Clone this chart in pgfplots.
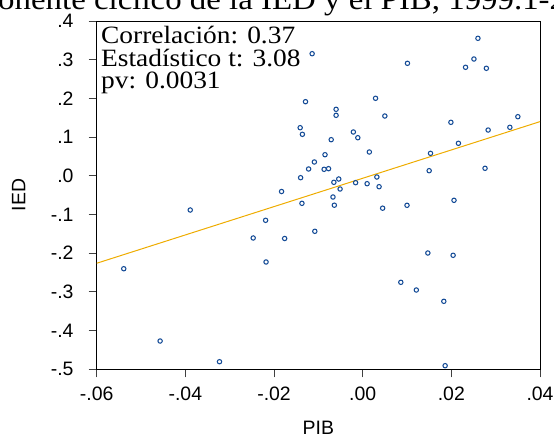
\documentclass[border=0pt]{standalone}
\usepackage{pgfplots}
\pgfplotsset{compat=1.18}
\usepackage{fontspec}
\setmainfont{Liberation Serif}
\newfontfamily\annfont{Liberation Serif}[FakeStretch=1.1]
\newfontfamily\arial{Liberation Sans}
\definecolor{ptblue}{RGB}{20,75,150}
\definecolor{fitline}{RGB}{238,172,0}
\begin{document}
\begin{tikzpicture}
\useasboundingbox (0bp,0bp) rectangle (554bp,437bp);
\clip (0bp,0bp) rectangle (554bp,437bp);
\begin{axis}[
  at={(96.7bp,67.7bp)}, anchor=south west,
  scale only axis, width=443.3bp, height=348.3bp,
  xmin=-0.06, xmax=0.04, ymin=-0.5, ymax=0.4,
  scaled x ticks=false, scaled y ticks=false,
  axis line style={black, line width=0.9bp},
  xtick={-0.06,-0.04,-0.02,0,0.02,0.04},
  xticklabels={-.06,-.04,-.02,.00,.02,.04},
  ytick={-0.5,-0.4,-0.3,-0.2,-0.1,0,0.1,0.2,0.3,0.4},
  yticklabels={-.5,-.4,-.3,-.2,-.1,.0,.1,.2,.3,.4},
  xtick pos=bottom, ytick pos=left,
  tick align=outside, major tick length=8bp,
  tick style={black!75, line width=0.9bp},
  ticklabel style={font=\arial\fontsize{19.5}{20}\selectfont},
  xticklabel style={inner sep=0pt, anchor=north, yshift=-9bp},
  yticklabel style={inner sep=0pt, anchor=east, xshift=-15bp},
  xlabel={PIB}, ylabel={IED},
  label style={font=\arial\fontsize{19.5}{20}\selectfont},
  xlabel style={at={(axis description cs:0.5,-0.186)}, anchor=base, inner sep=0pt},
  ylabel style={at={(axis description cs:-0.176,0.5)}, anchor=center, inner sep=0pt},
  clip=false,
]
\addplot[fitline, line width=1bp] coordinates {(-0.06,-0.226) (0.04,0.140)};
\addplot[only marks, mark=o, mark size=2.2bp, mark options={ptblue, line width=1.05bp}] table {
x y
-0.0114 0.3155
0.0101 0.2907
0.0260 0.3553
0.0251 0.3018
0.0232 0.2804
0.0279 0.2778
-0.0129 0.1915
0.0029 0.2003
-0.0060 0.1718
-0.0060 0.1563
0.0050 0.1545
0.0350 0.1527
0.0199 0.1382
-0.0141 0.1243
-0.0136 0.1072
0.0332 0.1253
0.0283 0.1183
-0.0021 0.1132
-0.0011 0.0984
-0.0071 0.0933
0.0216 0.0840
0.0015 0.0615
0.0153 0.0581
-0.0085 0.0545
-0.0109 0.0357
-0.0122 0.0176
-0.0087 0.0168
-0.0077 0.0184
0.0150 0.0132
0.0276 0.0194
-0.0140 -0.0049
0.0032 -0.0031
-0.0054 -0.0083
-0.0065 -0.0168
-0.0016 -0.0178
0.0010 -0.0204
-0.0051 -0.0341
0.0037 -0.0282
-0.0183 -0.0406
-0.0067 -0.0548
0.0206 -0.0633
-0.0219 -0.1150
-0.0247 -0.1607
-0.0176 -0.1620
-0.0108 -0.1434
-0.0137 -0.0711
-0.0064 -0.0760
0.0045 -0.0837
0.0100 -0.0762
-0.0539 -0.2401
-0.0457 -0.4269
-0.0323 -0.4804
-0.0389 -0.0884
-0.0218 -0.2227
0.0147 -0.1995
0.0204 -0.2054
0.0086 -0.2752
0.0121 -0.2951
0.0183 -0.3243
0.0186 -0.4907
};
\end{axis}
\node[anchor=base west, inner sep=0pt, font=\annfont\fontsize{30}{30}\selectfont] at (-2bp,427bp) {\llap{Comp}onente cíclico de la IED y el PIB, 1999.1-2\rlap{013.4}};
\node[anchor=base west, inner sep=0pt, font=\annfont\fontsize{25}{25}\selectfont] at (101bp,393bp) {Correlación: 0.37};
\node[anchor=base west, inner sep=0pt, font=\annfont\fontsize{25}{25}\selectfont] at (101bp,370.5bp) {Estadístico t: 3.08};
\node[anchor=base west, inner sep=0pt, font=\annfont\fontsize{25}{25}\selectfont] at (101bp,348bp) {pv: 0.0031};
\end{tikzpicture}
\end{document}
